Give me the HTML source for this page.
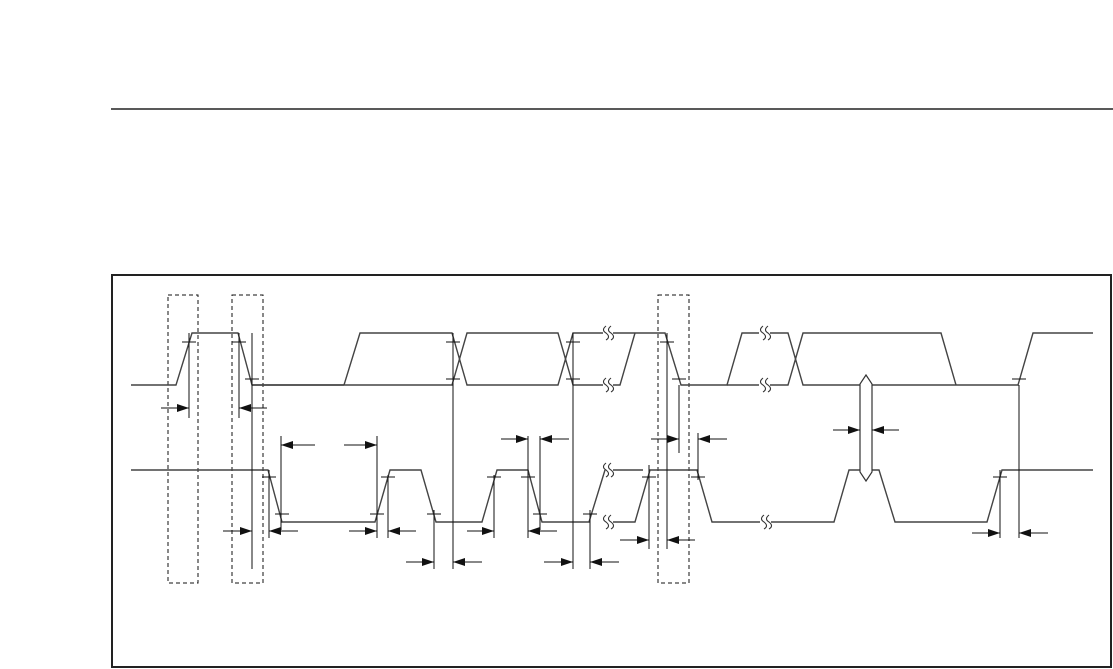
<!DOCTYPE html>
<html><head><meta charset="utf-8"><style>
html,body{margin:0;padding:0;background:#fff;}
svg{display:block}
</style></head><body>
<svg width="1113" height="669" viewBox="0 0 1113 669" xmlns="http://www.w3.org/2000/svg">
<defs>
<marker id="a" markerWidth="12" markerHeight="8" refX="12" refY="4" orient="auto" markerUnits="userSpaceOnUse">
<path d="M0,0 L12,4 L0,8 Z" fill="#111"/></marker>
<path id="br" d="M0,-7 q-5,4 0,7 q5,4 0,7 M5,-7 q-5,4 0,7 q5,4 0,7" fill="none" stroke="#333" stroke-width="1.1"/>
</defs>
<line x1="111" y1="109" x2="1113" y2="109" stroke="#222" stroke-width="1.5"/>
<rect x="112" y="275" width="999" height="392" fill="none" stroke="#222" stroke-width="2"/>
<g fill="none" stroke="#111" stroke-width="1" stroke-dasharray="4,3">
<rect x="168" y="295" width="30" height="288"/>
<rect x="232" y="295" width="31" height="288"/>
<rect x="658" y="295" width="31" height="288"/>
</g>
<g fill="none" stroke="#444" stroke-width="1.4">
<polyline points="131,385 176,385 192,333 238,333 252,385 344,385"/>
<polyline points="252,385 452,385 467,333 558,333 573,385 603,385"/>
<polyline points="344,385 360,333 452,333 467,385 558,385 573,333 603,333"/>
<polyline points="613,333 665,333 681,385 727,385 742,333 759,333"/>
<polyline points="613,385 620,385 635,333"/>
<polyline points="770,333 788,333 803,385 1018,385 1033,333 1093,333"/>
<polyline points="727,385 759,385"/>
<polyline points="770,385 788,385 803,333 941,333 956,385"/>
<polyline points="131,470 268,470 282,522 375,522 390,470 421,470 436,522 482,522 497,470 528,470 542,522 589,522 605,470"/>
<polyline points="613,470 643,470"/>
<polyline points="613,522 635,522 650,470 697,470 712,522 760,522"/>
<polyline points="771,522 834,522 849,470 879,470 895,522 987,522 1002,470 1093,470"/>
</g>
<use href="#br" x="606" y="333"/>
<use href="#br" x="606" y="385"/>
<use href="#br" x="606" y="470"/>
<use href="#br" x="606" y="522"/>
<use href="#br" x="763" y="333"/>
<use href="#br" x="763" y="385"/>
<use href="#br" x="764" y="522"/>
<path d="M866,375 L872,384 L872,472 L866,481 L860,472 L860,384 Z" fill="#fff" stroke="#333" stroke-width="1.2"/>
<g stroke="#111" stroke-width="1">
<line x1="189" y1="333" x2="189" y2="418"/>
<line x1="239" y1="333" x2="239" y2="418"/>
<line x1="252" y1="333" x2="252" y2="569"/>
<line x1="269" y1="470" x2="269" y2="538"/>
<line x1="281" y1="436" x2="281" y2="530"/>
<line x1="377" y1="436" x2="377" y2="538"/>
<line x1="388" y1="475" x2="388" y2="538"/>
<line x1="434" y1="510" x2="434" y2="569"/>
<line x1="453" y1="333" x2="453" y2="569"/>
<line x1="494" y1="475" x2="494" y2="538"/>
<line x1="528" y1="436" x2="528" y2="538"/>
<line x1="540" y1="436" x2="540" y2="530"/>
<line x1="573" y1="333" x2="573" y2="569"/>
<line x1="590" y1="510" x2="590" y2="569"/>
<line x1="649" y1="465" x2="649" y2="549"/>
<line x1="667" y1="333" x2="667" y2="549"/>
<line x1="679" y1="385" x2="679" y2="453"/>
<line x1="698" y1="433" x2="698" y2="480"/>
<line x1="1000" y1="470" x2="1000" y2="538"/>
<line x1="1019" y1="385" x2="1019" y2="538"/>
</g>
<g stroke="#111" stroke-width="1">
<line x1="182" y1="342" x2="196" y2="342"/>
<line x1="232" y1="342" x2="246" y2="342"/>
<line x1="245" y1="379" x2="259" y2="379"/>
<line x1="262" y1="477" x2="276" y2="477"/>
<line x1="275" y1="514" x2="289" y2="514"/>
<line x1="370" y1="514" x2="384" y2="514"/>
<line x1="381" y1="477" x2="395" y2="477"/>
<line x1="427" y1="514" x2="441" y2="514"/>
<line x1="446" y1="342" x2="460" y2="342"/>
<line x1="446" y1="379" x2="460" y2="379"/>
<line x1="487" y1="477" x2="501" y2="477"/>
<line x1="521" y1="477" x2="535" y2="477"/>
<line x1="533" y1="514" x2="547" y2="514"/>
<line x1="566" y1="342" x2="580" y2="342"/>
<line x1="566" y1="379" x2="580" y2="379"/>
<line x1="583" y1="514" x2="597" y2="514"/>
<line x1="642" y1="477" x2="656" y2="477"/>
<line x1="660" y1="342" x2="674" y2="342"/>
<line x1="672" y1="379" x2="686" y2="379"/>
<line x1="691" y1="477" x2="705" y2="477"/>
<line x1="993" y1="477" x2="1007" y2="477"/>
<line x1="1012" y1="379" x2="1026" y2="379"/>
</g>
<g stroke="#111" stroke-width="1" marker-end="url(#a)">
<line x1="161" y1="408" x2="189" y2="408"/>
<line x1="267" y1="408" x2="239" y2="408"/>
<line x1="223" y1="531" x2="252" y2="531"/>
<line x1="315" y1="445" x2="281" y2="445"/>
<line x1="298" y1="531" x2="269" y2="531"/>
<line x1="344" y1="445" x2="377" y2="445"/>
<line x1="349" y1="531" x2="377" y2="531"/>
<line x1="416" y1="531" x2="388" y2="531"/>
<line x1="406" y1="562" x2="434" y2="562"/>
<line x1="482" y1="562" x2="453" y2="562"/>
<line x1="467" y1="531" x2="494" y2="531"/>
<line x1="501" y1="439" x2="528" y2="439"/>
<line x1="569" y1="439" x2="540" y2="439"/>
<line x1="557" y1="531" x2="528" y2="531"/>
<line x1="544" y1="562" x2="573" y2="562"/>
<line x1="619" y1="562" x2="590" y2="562"/>
<line x1="651" y1="439" x2="679" y2="439"/>
<line x1="727" y1="439" x2="698" y2="439"/>
<line x1="620" y1="540" x2="649" y2="540"/>
<line x1="695" y1="540" x2="667" y2="540"/>
<line x1="833" y1="430" x2="860" y2="430"/>
<line x1="899" y1="430" x2="872" y2="430"/>
<line x1="972" y1="533" x2="1000" y2="533"/>
<line x1="1048" y1="533" x2="1019" y2="533"/>
</g>
</svg>
</body></html>
